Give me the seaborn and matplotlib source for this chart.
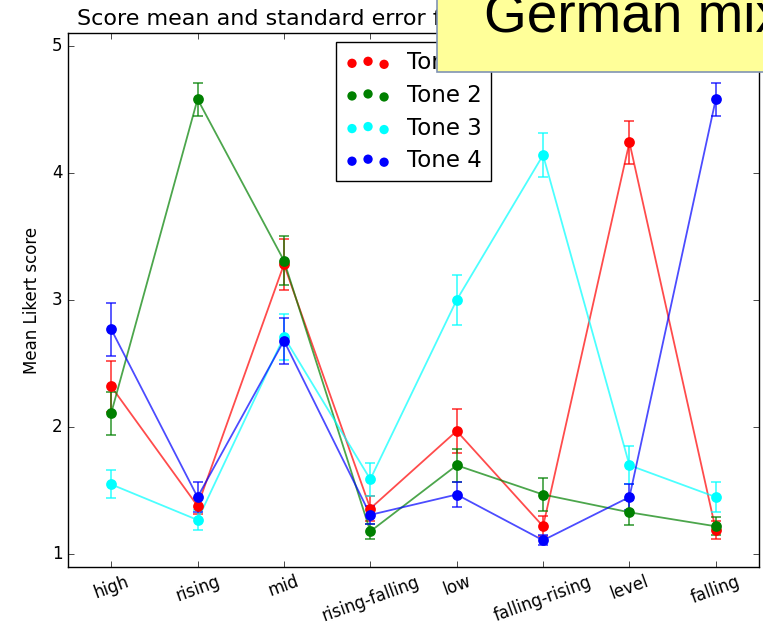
import matplotlib
matplotlib.use("Agg")
import matplotlib.pyplot as plt
from matplotlib.patches import Rectangle
import seaborn as sns
import numpy as np

categories = ["high", "rising", "mid", "rising-falling", "low",
              "falling-rising", "level", "falling"]
tone_names = ["Tone 1", "Tone 2", "Tone 3", "Tone 4"]
tone_colors = ["#ff0000", "#008000", "#00ffff", "#0000ff"]

tone1_mean = [2.32, 1.38, 3.28, 1.36, 1.97, 1.22, 4.24, 1.19]
tone1_se   = [0.20, 0.06, 0.20, 0.10, 0.17, 0.08, 0.17, 0.07]
tone2_mean = [2.11, 4.58, 3.31, 1.18, 1.70, 1.47, 1.33, 1.22]
tone2_se   = [0.17, 0.13, 0.19, 0.06, 0.13, 0.13, 0.10, 0.07]
tone3_mean = [1.55, 1.27, 2.71, 1.59, 3.00, 4.14, 1.70, 1.45]
tone3_se   = [0.11, 0.08, 0.18, 0.13, 0.20, 0.17, 0.15, 0.12]
tone4_mean = [2.77, 1.45, 2.68, 1.31, 1.47, 1.11, 1.45, 4.58]
tone4_se   = [0.21, 0.12, 0.18, 0.07, 0.10, 0.04, 0.10, 0.13]

means = [tone1_mean, tone2_mean, tone3_mean, tone4_mean]
ses = [tone1_se, tone2_se, tone3_se, tone4_se]

plt.style.use("classic")
plt.rcParams["font.family"] = ["DejaVu Sans"]

fig = plt.figure(figsize=(7.63, 6.31), dpi=100)
fig.patch.set_facecolor("white")
ax = fig.add_axes([68 / 763, 1 - 567 / 631, 691 / 763, 534 / 631])
ax.set_facecolor("white")

x = np.arange(len(categories))
for m, s, c in zip(means, ses, tone_colors):
    sns.lineplot(x=x, y=m, color=c, alpha=0.7, linewidth=1.3, ax=ax,
                 sort=False, legend=False)
    ax.errorbar(x, m, yerr=s, fmt="none", ecolor=c, alpha=0.7,
                elinewidth=1.3, capsize=3.5, capthick=1.3)
    sns.scatterplot(x=x, y=m, color=c, s=60, linewidth=0, ax=ax,
                    legend=False, zorder=3)

ax.set_xlim(-0.5, len(categories) - 0.5)
ax.set_ylim(0.9, 5.1)
ax.set_yticks([1, 2, 3, 4, 5])
ax.set_xticks(x)
ax.set_xticklabels(categories, rotation=20, fontsize=12)
ax.tick_params(axis="y", labelsize=12)
ax.set_ylabel("Mean Likert score", fontsize=12, labelpad=8)

handles = [ax.scatter([], [], color=c, s=45, linewidth=0, label=n)
           for c, n in zip(tone_colors, tone_names)]
leg = ax.legend(handles=handles, loc="upper center", scatterpoints=3,
                fontsize=16.5, frameon=True, borderaxespad=0.4,
                labelspacing=0.42, borderpad=0.4, handletextpad=0.7)
leg.get_frame().set_edgecolor("black")

fig.text(77 / 763, 1 - 25 / 631, "Score mean and standard error for",
         fontsize=16, ha="left", va="baseline", zorder=1)

fig.patches.append(Rectangle((437 / 763, 1 - 72 / 631), 0.5, 0.2,
                             transform=fig.transFigure, facecolor="#ffff99",
                             edgecolor="#8093b3", linewidth=1.2, zorder=10))
fig.text(484 / 763, 1 - 32 / 631, "German mix", fontsize=39.5,
         family=["Liberation Sans", "DejaVu Sans"],
         ha="left", va="baseline", zorder=11)

fig.savefig("out.png", dpi=100)
